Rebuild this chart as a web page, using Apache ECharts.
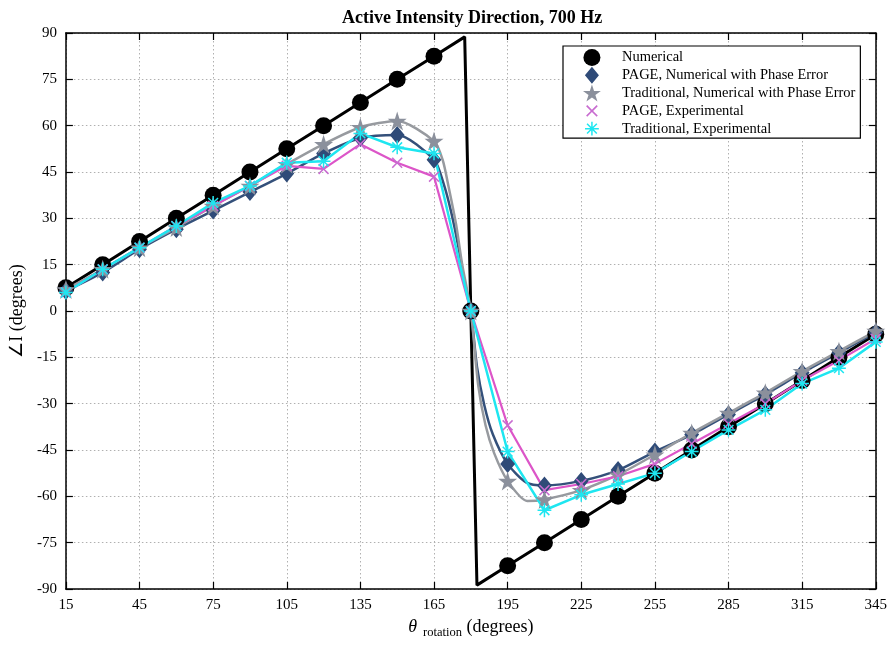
<!DOCTYPE html>
<html><head><meta charset="utf-8">
<script src="https://cdn.jsdelivr.net/npm/echarts@6/dist/echarts.min.js"></script>
<style>html,body{margin:0;padding:0;background:#fff}#c{width:890px;height:645px}</style>
</head><body><div id="c"></div>
<script>
// ---- data ----
const xs = [15,30,45,60,75,90,105,120,135,150,165,180,195,210,225,240,255,270,285,300,315,330,345];
const numerical = [7.5,15,22.5,30,37.5,45,52.5,60,67.5,75,82.5,0,-82.5,-75,-67.5,-60,-52.5,-45,-37.5,-30,-22.5,-15,-7.5];
const pageNum   = [6.5,12.5,20,26.5,32.5,38.5,44.5,51,56,57,49,0,-49.5,-56.5,-55,-51.5,-45.5,-40,-33.5,-27,-20,-13.5,-7];
const tradNum   = [7,13.5,20.5,27,34,40.5,47.5,54,59.5,61.5,55,0,-55,-61,-58,-53,-46.5,-39.5,-33,-26.5,-19.5,-13,-6.5];
const pageExp   = [6,13.5,20.5,27.5,34,40.5,47,46,54,48,43.5,0,-37,-58,-56,-53.5,-49.5,-43,-36.5,-30,-22.5,-16,-9];
const tradExp   = [6,13.5,20.5,27.5,35,40.5,48,48.5,57.5,53,51,0,-45.5,-64.5,-59.5,-56,-52.5,-45.5,-38.5,-32,-23.5,-18.5,-10];

// extra curve points (line only, no marker)
const numLineX = [177.5, 182.5];
const numLineY = [88.75, -88.75];
const pageNumLineX = [169,172,175,177.5,182.5,185.5,189,202.5];
const pageNumLineY = [41,32,20.5,9,-18,-30.5,-40,-55.5];
const tradNumLineX = [168.5,171,174,176.5,183,186,189.5,203];
const tradNumLineY = [49,40,28,15,-24,-37,-46,-61.5];

const xTickLabels = [15,45,75,105,135,165,195,225,255,285,315,345];
const seriesNames = ['Numerical','PAGE, Numerical with Phase Error','Traditional, Numerical with Phase Error','PAGE, Experimental','Traditional, Experimental'];

// ---- build ----
function buildData(xArr, yArr, exX, exY) {
  const pts = xArr.map((x, i) => ({ value: [x, yArr[i]] }));
  (exX || []).forEach((x, i) => pts.push({ value: [x, exY[i]], symbol: 'none' }));
  pts.sort((a, b) => a.value[0] - b.value[0]);
  return pts;
}
const FONT = 'Liberation Serif';
const pad = 'M0,0 L0.01,0 L0,0.01 Z M16,16 L15.99,16 L16,15.99 Z ';
const starPath = 'path://M12,0 L14.7,8.28 L23.41,8.29 L16.37,13.42 L19.05,21.71 L12,16.6 L4.95,21.71 L7.63,13.42 L0.59,8.29 L9.3,8.28 Z';
const diamondPath = 'path://' + pad + 'M8,0 L14.6,8 L8,16 L1.4,8 Z';
const xPath = 'path://' + pad + 'M2.5,3.6 L3.6,2.5 L8,6.9 L12.4,2.5 L13.5,3.6 L9.1,8 L13.5,12.4 L12.4,13.5 L8,9.1 L3.6,13.5 L2.5,12.4 L6.9,8 Z';
const astPath = 'path://' + pad + 'M1.5,7.3 L14.5,7.3 L14.5,8.7 L1.5,8.7 Z M7.3,1.5 L8.7,1.5 L8.7,14.5 L7.3,14.5 Z M3.9,2.9 L13.1,12.1 L12.1,13.1 L2.9,3.9 Z M13.1,3.9 L3.9,13.1 L2.9,12.1 L12.1,2.9 Z';

const chart = echarts.init(document.getElementById('c'), null, { renderer: 'canvas' });

const axisCommon = {
  axisLine: { show: true, onZero: false, lineStyle: { color: '#000', width: 1.5 } },
  axisTick: { show: true, inside: true, length: 7, lineStyle: { color: '#000', width: 1.2 } }
};
const gridLine = { show: true, lineStyle: { color: '#b0b0b0', width: 1, type: [1.5, 2.5] } };

const option = {
  animation: false,
  backgroundColor: '#fff',
  title: {
    text: 'Active Intensity Direction, 700 Hz', left: 337, top: 4,
    textStyle: { fontFamily: FONT, fontWeight: 'bold', fontSize: 18, color: '#000' }
  },
  legend: {
    orient: 'vertical', left: 563, top: 46,
    padding: [3, 5, 1, 20], itemWidth: 50, itemHeight: 17, itemGap: 0.8,
    backgroundColor: '#fff', borderColor: '#000', borderWidth: 1.2, borderRadius: 0,
    textStyle: { fontFamily: FONT, fontSize: 14.5, color: '#000' },
    data: [
      { name: seriesNames[0], icon: 'circle' },
      { name: seriesNames[1], icon: diamondPath },
      { name: seriesNames[2], icon: starPath },
      { name: seriesNames[3], icon: xPath },
      { name: seriesNames[4], icon: astPath }
    ],
    selectedMode: false
  },
  grid: { left: 60, right: 14, top: 33, bottom: 56 },
  xAxis: [
    Object.assign({}, axisCommon, {
      type: 'value', min: 15, max: 345, position: 'bottom',
      axisTick: Object.assign({}, axisCommon.axisTick, { customValues: xTickLabels }),
      axisLabel: { customValues: xTickLabels, margin: 9, fontFamily: FONT, fontSize: 15, color: '#000' },
      splitLine: gridLine,
      name: '{a|θ}{b|rotation}{c| (degrees)}', nameLocation: 'middle', nameGap: 25,
      nameTextStyle: {
        rich: {
          a: { fontFamily: FONT, fontSize: 18, fontStyle: 'italic', color: '#000' },
          b: { fontFamily: FONT, fontSize: 12.5, color: '#000', padding: [12, 0, 0, 6] },
          c: { fontFamily: FONT, fontSize: 18, color: '#000' }
        }
      }
    }),
    Object.assign({}, axisCommon, {
      type: 'value', min: 15, max: 345, position: 'top',
      axisTick: Object.assign({}, axisCommon.axisTick, { customValues: xTickLabels }),
      axisLabel: { show: false }, splitLine: { show: false }
    })
  ],
  yAxis: [
    Object.assign({}, axisCommon, {
      type: 'value', min: -90, max: 90, interval: 15, position: 'left',
      axisLabel: { margin: 9, fontFamily: FONT, fontSize: 15, color: '#000' },
      splitLine: gridLine,
      name: '∠I (degrees)', nameLocation: 'middle', nameGap: 31,
      nameTextStyle: { fontFamily: FONT, fontSize: 18, color: '#000' }
    }),
    Object.assign({}, axisCommon, {
      type: 'value', min: -90, max: 90, interval: 15, position: 'right',
      axisLabel: { show: false }, splitLine: { show: false }
    })
  ],
  series: [
    {
      name: seriesNames[0], type: 'line', data: buildData(xs, numerical, numLineX, numLineY),
      symbol: 'circle', symbolSize: 17,
      itemStyle: { color: '#000' }, lineStyle: { color: '#000', width: 3 }
    },
    {
      name: seriesNames[1], type: 'line', data: buildData(xs, pageNum, pageNumLineX, pageNumLineY),
      symbol: diamondPath, symbolSize: 18, smooth: 0.25,
      itemStyle: { color: '#2f4b78' }, lineStyle: { color: '#34507a', width: 2.5 }
    },
    {
      name: seriesNames[2], type: 'line', data: buildData(xs, tradNum, tradNumLineX, tradNumLineY),
      symbol: starPath, symbolSize: 19, smooth: 0.25,
      itemStyle: { color: '#8b909c' }, lineStyle: { color: '#979a9f', width: 2.5 }
    },
    {
      name: seriesNames[3], type: 'line', data: buildData(xs, pageExp),
      symbol: xPath, symbolSize: 16,
      itemStyle: { color: '#c86cd0' }, lineStyle: { color: '#dc55c8', width: 2.2 }
    },
    {
      name: seriesNames[4], type: 'line', data: buildData(xs, tradExp),
      symbol: astPath, symbolSize: 17,
      itemStyle: { color: '#1ee6f0' }, lineStyle: { color: '#1ee6f0', width: 2.5 }
    }
  ]
};
chart.setOption(option);
</script>
</body></html>
